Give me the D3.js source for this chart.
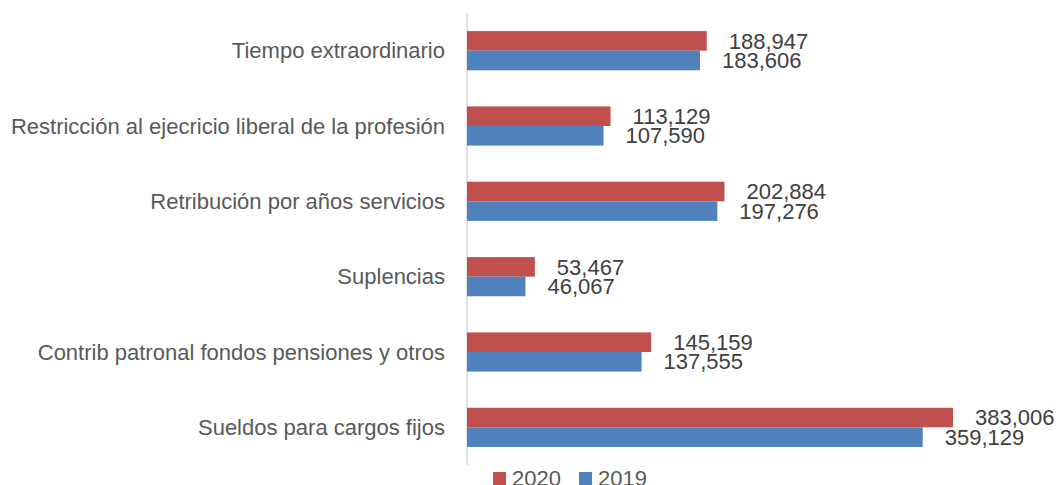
<!DOCTYPE html>
<html>
<head>
<meta charset="utf-8">
<script src="https://cdn.jsdelivr.net/npm/d3@7"></script>
<style>
body{margin:0;background:#fff;}
svg text{font-family:"Liberation Sans Narrow","Liberation Sans",Arial,sans-serif;}
</style>
</head>
<body>
<script>
// data
const categories = ["Tiempo extraordinario","Restricción al ejecricio liberal de la profesión","Retribución por años servicios","Suplencias","Contrib patronal fondos pensiones y otros","Sueldos para cargos fijos"];
const series = ["2020","2019"];
const values2020 = [188947,113129,202884,53467,145159,383006];
const values2019 = [183606,107590,197276,46067,137555,359129];
const colors = ["#C0504D","#4F81BD"];

const width = 1056, height = 485;

function create_svg(width,height){
	return d3.select("body")
		.append("svg")
		.attr("width",width)
		.attr("height",height);
}

const svg = create_svg(width,height);

const rows = categories.map(function(c,i){
	return {cat:c, vals:[values2020[i],values2019[i]]};
});

const x = d3.scaleLinear().domain([0,400000]).range([467,974.6]);
const y = d3.scaleBand().domain(categories).range([13,465]).paddingInner(0.48).paddingOuter(0.24);
const ys = d3.scaleBand().domain(series).range([0,y.bandwidth()]);

// axis line
svg.append("line")
	.attr("x1",467).attr("x2",467)
	.attr("y1",13).attr("y2",465)
	.attr("stroke","#D9D9D9")
	.attr("stroke-width",1.5);

// category labels
svg.append("g").selectAll("text")
	.data(categories)
	.join("text")
	.attr("x",445)
	.attr("y",function(d){ return y(d)+y.bandwidth()/2; })
	.attr("dy","0.35em")
	.attr("text-anchor","end")
	.attr("font-size",22)
	.attr("fill","#595959")
	.text(function(d){ return d; });

const group = svg.append("g").selectAll("g")
	.data(rows)
	.join("g")
	.attr("transform",function(d){ return "translate(0,"+y(d.cat)+")"; });

group.selectAll("rect")
	.data(function(d){ return d.vals.map(function(v,i){ return {s:series[i],v:v,i:i}; }); })
	.join("rect")
	.attr("x",x(0))
	.attr("y",function(d){ return ys(d.s); })
	.attr("width",function(d){ return x(d.v)-x(0); })
	.attr("height",ys.bandwidth())
	.attr("fill",function(d){ return colors[d.i]; });

group.selectAll("text")
	.data(function(d){ return d.vals.map(function(v,i){ return {s:series[i],v:v,i:i}; }); })
	.join("text")
	.attr("x",function(d){ return x(d.v)+22; })
	.attr("y",function(d){ return ys(d.s)+ys.bandwidth()/2; })
	.attr("dy","0.35em")
	.attr("font-size",22)
	.attr("fill","#404040")
	.text(function(d){ return d3.format(",")(d.v); });

// legend
const legendX = [493,579];
const legend = svg.append("g").selectAll("g")
	.data(series)
	.join("g")
	.attr("transform",function(d,i){ return "translate("+legendX[i]+",472)"; });
legend.append("rect")
	.attr("width",13).attr("height",13)
	.attr("fill",function(d,i){ return colors[i]; });
legend.append("text")
	.attr("x",19)
	.attr("y",6.5)
	.attr("dy","0.35em")
	.attr("font-size",22)
	.attr("fill","#595959")
	.text(function(d){ return d; });
</script>
</body>
</html>
